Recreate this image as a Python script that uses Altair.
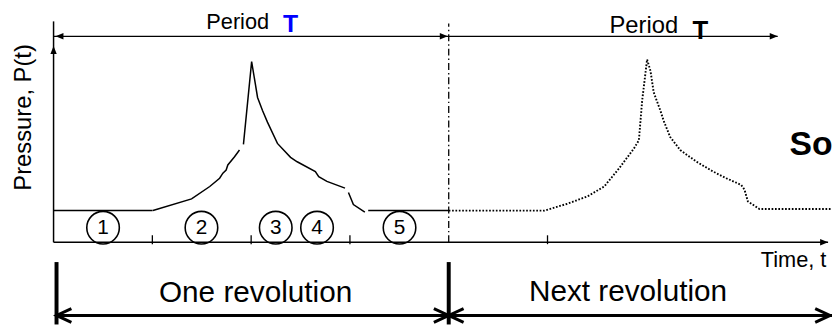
import altair as alt
import pandas as pd

FONT = "Liberation Sans"

# ---- pressure trace, first revolution (solid, drawn in pieces) ----
seg_a_t = [0.0, 1.003]
seg_a_p = [1.0, 1.0]
seg_b_t = [1.006, 1.397, 1.581, 1.681, 1.714, 1.747, 1.764, 1.832, 1.882]
seg_b_p = [1.0, 1.37, 1.76, 2.02, 2.18, 2.28, 2.44, 2.70, 2.91]
seg_c_t = [1.922, 2.005, 2.065, 2.115, 2.165, 2.266, 2.399, 2.466, 2.65, 2.684, 2.767, 2.95]
seg_c_p = [3.09, 5.70, 4.57, 4.16, 3.79, 3.12, 2.68, 2.54, 2.23, 2.07, 1.92, 1.71]
seg_d_t = [2.985, 3.035, 3.151]
seg_d_p = [1.57, 1.19, 0.95]
seg_e_t = [3.185, 4.0]
seg_e_p = [1.0, 1.0]

# ---- pressure trace, next revolution (dotted) ----
next_t = [4.0, 4.97, 5.206, 5.406, 5.574, 5.724, 5.875, 5.925, 5.958, 6.008, 6.042, 6.075,
          6.142, 6.175, 6.242, 6.343, 6.509, 6.677, 6.81, 6.96, 6.994, 7.028, 7.145, 7.88]
next_p = [1.0, 1.0, 1.22, 1.45, 1.76, 2.33, 2.96, 3.22, 4.47, 5.77, 5.41, 4.73,
          4.16, 3.84, 3.32, 2.91, 2.54, 2.23, 2.02, 1.81, 1.66, 1.29, 1.05, 1.05]

# ---- stage markers ----
stage_labels = ["1", "2", "3", "4", "5"]
stage_t = [0.501, 1.497, 2.249, 2.667, 3.502]
stage_p = [0.46, 0.46, 0.46, 0.46, 0.46]
tick_t = [1.0, 2.0, 3.0, 5.0]

# ---- annotation geometry (data units) ----
period_t = [0.0, 4.0, 7.33]
period_p = 6.5
rev_t = [0.03, 4.0, 7.88]
rev_p = -2.31
rev_bar_p = [-0.625, -2.594]
axis_top_p = 6.97
axis_end_t = 7.84

X = alt.X("t:Q", scale=alt.Scale(domain=[-0.4612, 7.8797], nice=False, zero=False), axis=None)
Y = alt.Y("p:Q", scale=alt.Scale(domain=[-2.594, 7.344], nice=False, zero=False), axis=None)


def trace(parts, **mk):
    rows = []
    for k, (ts, ps) in enumerate(parts):
        for i, (t, p) in enumerate(zip(ts, ps)):
            rows.append({"t": t, "p": p, "seg": k, "i": i})
    df = pd.DataFrame(rows)
    return alt.Chart(df).mark_line(color="black", **mk).encode(
        x=X, y=Y, detail="seg:N", order="i:Q")


def rules(rows, **mk):
    df = pd.DataFrame(rows, columns=["t", "p", "t2", "p2"])
    return alt.Chart(df).mark_rule(color="black", **mk).encode(
        x=X, y=Y, x2="t2:Q", y2="p2:Q")


def heads(ts, ps, shape, size, filled=True, sw=1.0):
    df = pd.DataFrame({"t": ts, "p": ps})
    return alt.Chart(df).mark_point(shape=shape, size=size, filled=filled, color="black",
                                    opacity=1, strokeWidth=sw).encode(x=X, y=Y)


def label(texts, ts, ps, size, **mk):
    df = pd.DataFrame({"t": ts, "p": ps, "s": texts})
    mk.setdefault("color", "black")
    return alt.Chart(df).mark_text(fontSize=size, font=FONT, **mk).encode(
        x=X, y=Y, text="s:N")


solid = trace([(seg_a_t, seg_a_p), (seg_b_t, seg_b_p), (seg_c_t, seg_c_p),
               (seg_d_t, seg_d_p), (seg_e_t, seg_e_p)], strokeWidth=1.5)
dotted = trace([(next_t, next_p)], strokeWidth=1.9, strokeDash=[1.7, 1.7])

axes = rules([
    (0.0, 0.0, 0.0, axis_top_p),
    (0.0, 0.0, axis_end_t, 0.0),
], strokeWidth=1.5)
ticks = rules([(t, -0.06, t, 0.22) for t in tick_t], strokeWidth=1.3)
dashdot = rules([(4.0, 0.0, 4.0, 6.9)], strokeWidth=1.3, strokeDash=[7, 3, 1.5, 3])
period_lines = rules([
    (period_t[0], period_p, period_t[1], period_p),
    (period_t[1], period_p, period_t[2], period_p),
], strokeWidth=1.3)
rev_bars = rules([(t, rev_bar_p[0], t, rev_bar_p[1]) for t in rev_t[:2]], strokeWidth=4)
rev_lines = rules([
    (rev_t[0], rev_p, rev_t[1], rev_p),
    (rev_t[1], rev_p, rev_t[2], rev_p),
], strokeWidth=3)

RIGHT = "M0,0 L-2,-0.8 L-2,0.8 Z"
LEFT = "M0,0 L2,-0.8 L2,0.8 Z"
UP = "M0,0 L-0.8,2 L0.8,2 Z"
CHEV_L = "M2,-0.93 L0,0 L2,0.93"
CHEV_R = "M-2,-0.93 L0,0 L-2,0.93"

arrow_r = heads([period_t[1] - 0.01, period_t[2], axis_end_t], [period_p, period_p, 0.0], RIGHT, 64)
arrow_l = heads([period_t[0] + 0.02], [period_p], LEFT, 64)
arrow_u = heads([0.0], [6.19], UP, 64)
chev_l = heads([rev_t[0], rev_t[1]], [rev_p, rev_p], CHEV_L, 225, filled=False, sw=3)
chev_r = heads([rev_t[1], rev_t[2] - 0.02], [rev_p, rev_p], CHEV_R, 225, filled=False, sw=3)

circles = alt.Chart(pd.DataFrame({"t": stage_t, "p": stage_p})).mark_point(
    shape="circle", size=1080, filled=False, color="black", opacity=1, strokeWidth=1.6
).encode(x=X, y=Y)
numbers = label(stage_labels, stage_t, stage_p, 21, align="center", baseline="middle")

txt_period1 = label(["Period"], [1.864], [6.72], 22, align="center", baseline="alphabetic")
txt_T1 = label(["T"], [2.40], [6.625], 25, align="center", baseline="alphabetic",
               fontWeight="bold", color="#0000FF")
txt_period2 = label(["Period"], [5.975], [6.59], 24, align="center", baseline="alphabetic")
txt_T2 = label(["T"], [6.547], [6.41], 26, align="center", baseline="alphabetic",
               fontWeight="bold")
txt_ylab = label(["Pressure, P(t)"], [-0.30], [3.94], 24, align="center", baseline="middle",
                 angle=270)
txt_one = label(["One revolution"], [2.045], [-1.875], 30, align="center", baseline="alphabetic")
txt_next = label(["Next revolution"], [5.815], [-1.84], 30, align="center", baseline="alphabetic")
txt_time = label(["Time, t"], [7.158], [-0.78], 22, align="left", baseline="alphabetic")
txt_so = label(["So"], [7.449], [2.75], 34, align="left", baseline="alphabetic", fontWeight="bold")

chart = alt.layer(
    dashdot, axes, ticks, solid, dotted, period_lines, rev_bars, rev_lines,
    arrow_r, arrow_l, arrow_u, chev_l, chev_r, circles, numbers,
    txt_period1, txt_T1, txt_period2, txt_T2, txt_ylab, txt_one, txt_next, txt_time, txt_so,
).properties(
    width=832, height=318, padding=0,
    autosize=alt.AutoSizeParams(type="none"),
    background="white",
).configure_view(stroke=None)

chart.save("out.html", embed_options={"renderer": "svg", "actions": False})
